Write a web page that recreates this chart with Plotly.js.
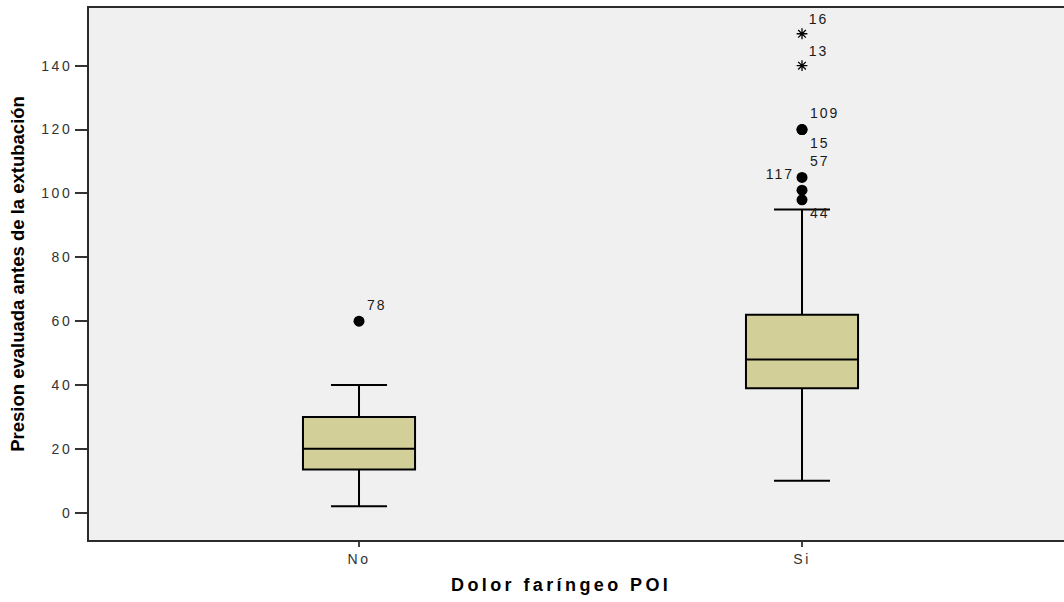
<!DOCTYPE html>
<html>
<head>
<meta charset="utf-8">
<script src="https://cdn.plot.ly/plotly-3.0.1.min.js"></script>
<style>
  html, body { margin: 0; padding: 0; background: #ffffff; }
  #chart { width: 1064px; height: 602px; }
  .xtick text, .ytick text { letter-spacing: 2.5px; }
  .textpoint text { letter-spacing: 2px; }
  .annotation-text { letter-spacing: 3.4px; }
</style>
</head>
<body>
<div id="chart"></div>
<script>
// Groups on the x axis
const categories = ['No', 'Si'];

// Box statistics per group (pressure measured before extubation)
const lowerWhisker = [2, 10];
const q1Values = [13.5, 39];
const medianValues = [20, 48];
const q3Values = [30, 62];
const upperWhisker = [40, 95];

// Outliers (circles): group, value, case number
const circleGroup = ['No', 'Si', 'Si', 'Si', 'Si', 'Si'];
const circleValue = [60, 120, 120, 105, 101, 98];
const circleCase = ['78', '109', '15', '57', '117', '44'];
const circleLabelPos = ['top right', 'top right', 'bottom right', 'top right', 'top left', 'bottom right'];

// Extreme values (stars): group, value, case number
const extremeGroup = ['Si', 'Si'];
const extremeValue = [150, 140];
const extremeCase = ['16', '13'];

const yTickValues = [0, 20, 40, 60, 80, 100, 120, 140];

const labelFont = { family: 'Liberation Sans, Arial, sans-serif', size: 14, color: '#1a1a1a' };

const boxTrace = {
  type: 'box',
  x: categories,
  q1: q1Values,
  median: medianValues,
  q3: q3Values,
  lowerfence: lowerWhisker,
  upperfence: upperWhisker,
  boxpoints: false,
  width: 0.253,
  whiskerwidth: 0.5,
  fillcolor: '#D3CF98',
  line: { color: '#000000', width: 2 },
  hoverinfo: 'skip'
};

const circleTrace = {
  type: 'scatter',
  mode: 'markers+text',
  x: circleGroup,
  y: circleValue,
  text: circleCase,
  textposition: circleLabelPos,
  textfont: labelFont,
  marker: { symbol: 'circle', size: 11, color: '#000000' },
  cliponaxis: false,
  hoverinfo: 'skip'
};

const extremeTrace = {
  type: 'scatter',
  mode: 'markers+text',
  x: extremeGroup,
  y: extremeValue,
  text: extremeCase,
  textposition: 'top right',
  textfont: labelFont,
  marker: { symbol: 'asterisk-open', size: 9, color: '#000000', line: { color: '#000000', width: 1.3 } },
  cliponaxis: false,
  hoverinfo: 'skip'
};

const tickFont = { family: 'Liberation Sans, Arial, sans-serif', size: 14, color: '#333333' };

const layout = {
  width: 1064,
  height: 602,
  margin: { l: 89, r: 0, t: 8, b: 62 },
  paper_bgcolor: '#ffffff',
  plot_bgcolor: '#F0F0F0',
  showlegend: false,
  xaxis: {
    type: 'category',
    categoryarray: categories,
    range: [-0.6095, 1.5914],
    showgrid: false,
    zeroline: false,
    showline: true,
    mirror: true,
    linecolor: '#2b2b2b',
    linewidth: 2,
    ticks: 'outside',
    ticklen: 5,
    tickwidth: 2,
    tickcolor: '#444444',
    tickfont: tickFont
  },
  yaxis: {
    range: [-8.55, 158.07],
    tickvals: yTickValues,
    showgrid: false,
    zeroline: false,
    showline: true,
    linecolor: '#2b2b2b',
    linewidth: 2,
    ticks: 'outside',
    ticklen: 12,
    tickwidth: 2,
    tickcolor: '#333333',
    tickfont: tickFont,
    title: {
      text: 'Presion evaluada antes de la extubación',
      font: { family: 'Liberation Sans, Arial, sans-serif', size: 18.5, weight: 700, color: '#000000' },
      standoff: 12
    }
  },
  annotations: [{
    text: 'Dolor faríngeo POI',
    xref: 'paper', yref: 'paper',
    x: 0.484, y: -0.085,
    xanchor: 'center', yanchor: 'middle',
    showarrow: false,
    font: { family: 'Liberation Sans, Arial, sans-serif', size: 18, weight: 700, color: '#000000' }
  }]
};

Plotly.newPlot('chart', [boxTrace, circleTrace, extremeTrace], layout, { displayModeBar: false, staticPlot: true });
</script>
</body>
</html>
